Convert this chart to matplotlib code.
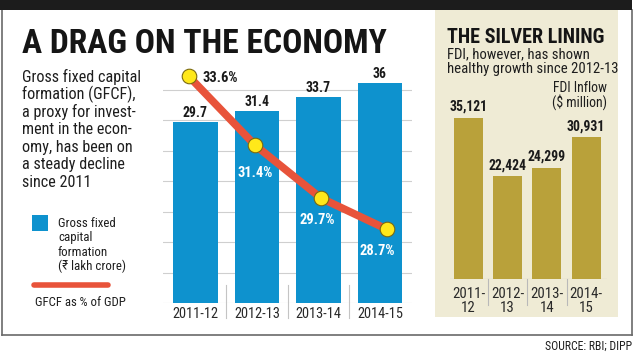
import matplotlib
matplotlib.use('Agg')
import matplotlib.pyplot as plt
from matplotlib import font_manager as fm
from matplotlib.patches import Rectangle
from matplotlib.lines import Line2D

# ---------------- data ----------------
years = ['2011-12', '2012-13', '2013-14', '2014-15']
gfcf = [29.7, 31.4, 33.7, 36]
gfcf_labels = ['29.7', '31.4', '33.7', '36']
gdp_share = [33.6, 31.4, 29.7, 28.7]
gdp_labels = ['33.6%', '31.4%', '29.7%', '28.7%']
fdi_years = ['2011-\n12', '2012-\n13', '2013-\n14', '2014-\n15']
fdi = [35121, 22424, 24299, 30931]

# ---------------- setup ----------------
W, H = 640, 355
fig = plt.figure(figsize=(6.4, 3.55), dpi=100)
fig.patch.set_facecolor('white')

def X(x):
    return x / W

def Y(y):
    return 1 - y / H

names = {f.name for f in fm.fontManager.ttflist}
cond = next((n for n in ['Liberation Sans Narrow', 'Roboto Condensed', 'Open Sans Condensed']
             if n in names), 'DejaVu Sans')
FAM = [cond, 'Noto Sans', 'DejaVu Sans']
STRETCH = 'condensed'

renderer = fig.canvas.get_renderer()

def fit(t, w):
    bb = t.get_window_extent(renderer)
    if bb.width > 0:
        t.set_fontsize(t.get_fontsize() * w / bb.width)
    return t

def ftext(x, y, s, size, weight='normal', color='#1e1e1e', ha='left', va='baseline', width=None):
    t = fig.text(X(x), Y(y), s, fontsize=size, fontweight=weight, color=color,
                 ha=ha, va=va, family=FAM, fontstretch=STRETCH, zorder=5)
    if width is not None:
        fit(t, width)
    return t

# ---------------- frame ----------------
fig.patches.append(Rectangle((0, Y(10)), X(632), 10 / H, transform=fig.transFigure,
                             facecolor='#1c1c1c', edgecolor='none', zorder=-1))
fig.patches.append(Rectangle((X(435), Y(317)), X(618) - X(435), (317 - 10) / H,
                             transform=fig.transFigure, facecolor='#EFEBD5',
                             edgecolor='none', zorder=-1))
for xs_, ys_ in [([2, 2], [10, 335]), ([2, 632], [335, 335]), ([632, 632], [10, 335])]:
    fig.lines.append(Line2D([X(v) for v in xs_], [Y(v) for v in ys_], transform=fig.transFigure,
                            color='#6a6a6a', lw=1.2, zorder=-1))

# ---------------- titles / text ----------------
ftext(22, 53, 'A DRAG ON THE ECONOMY', 26, weight='bold', color='#151515', width=366)

body = ['Gross fixed capital', 'formation (GFCF),', 'a proxy for invest-',
        'ment in the econ-', 'omy, has been on', 'a steady decline', 'since 2011']
t0 = ftext(22, 82, body[0], 12, width=119)
bs = t0.get_fontsize()
for k, line in enumerate(body[1:], start=1):
    ftext(22, 82 + 17.5 * k, line, bs)

# legend
fig.patches.append(Rectangle((X(32), Y(231)), 16 / W, 16 / H, transform=fig.transFigure,
                             facecolor='#0E92CE', edgecolor='none'))
leg = ['Gross fixed', 'capital', 'formation', '(₹ lakh crore)']
tl = ftext(58, 227, leg[0], 9.5, width=58)
ls = tl.get_fontsize()
for k, line in enumerate(leg[1:], start=1):
    ftext(58, 227 + 14.5 * k, line, ls)
fig.lines.append(Line2D([X(34), X(108)], [Y(285), Y(285)], transform=fig.transFigure,
                        color='#E8533A', lw=4, solid_capstyle='round'))
ftext(35, 306, 'GFCF as % of GDP', ls, width=91)

# right panel texts
ftext(447, 43, 'THE SILVER LINING', 17, weight='bold', color='#151515', width=158)
ts = ftext(447, 73, 'healthy growth since 2012-13', 10, width=170)
ftext(447, 58.5, 'FDI, however, has shown', ts.get_fontsize())
tf = ftext(607, 92, 'FDI Inflow', 9.5, ha='right', width=55)
ftext(607, 107, '($ million)', tf.get_fontsize(), ha='right')

ftext(632, 350, 'SOURCE: RBI; DIPP', 10, ha='right', color='#1e1e1e', width=87)

# ---------------- main bar chart ----------------
PXU = 6.1  # pixels per unit (scale of axes below)
ax = fig.add_axes([X(163), Y(303), (412 - 163) / W, (303 - 60) / H])
ax.set_xlim(-0.528, 3.521)
ax.set_ylim(0, 243 / PXU)
ax.axis('off')
for g in range(0, 40, 5):
    ax.axhline(g, color='#cfcfcf', lw=0.8, zorder=0)
xs = list(range(len(years)))
ax.bar(xs, gfcf, width=0.73, color='#0E92CE', zorder=2)
for i, (v, lbl) in enumerate(zip(gfcf, gfcf_labels)):
    ax.annotate(lbl, (i, v), xytext=(0, 9), textcoords='offset pixels', ha='center',
                va='center', fontsize=bs * 0.85, fontweight='bold', color='#1a1a1a',
                family=FAM, fontstretch=STRETCH, zorder=5)
    ax.annotate(years[i], (i, 0), xytext=(0, -15), textcoords='offset pixels', ha='center',
                va='baseline', fontsize=ls * 1.12, color='#2a2a2a', family=FAM,
                fontstretch=STRETCH, annotation_clip=False)
for sx in [0.5, 1.5, 2.5]:
    ax.plot([sx, sx], [(303 - 285) / PXU, (303 - 318) / PXU], color='#c4c4c4', lw=0.8,
            clip_on=False, zorder=1)

# line overlay (GFCF as % of GDP)
ax2 = fig.add_axes([X(163), Y(303), (412 - 163) / W, (303 - 60) / H])
ax2.patch.set_alpha(0)
ax2.axis('off')
ax2.set_xlim(-0.394, 3.379)
ax2.set_ylim(26.336, 34.129)
ax2.plot(xs, gdp_share, color='#E8533A', lw=5.5, solid_capstyle='butt', zorder=3)
ax2.plot(xs, gdp_share, 'o', ms=10.5, mfc='#FFE81A', mec='#7a6a10', mew=0.8, zorder=4)
offs = [(13, -1.5), (0, -28.4), (-4, -21.4), (-9.5, -22.2)]
has = ['left', 'center', 'center', 'center']
cols = ['#1a1a1a', 'white', 'white', 'white']
for i, (v, lbl) in enumerate(zip(gdp_share, gdp_labels)):
    ax2.annotate(lbl, (i, v), xytext=offs[i], textcoords='offset pixels', ha=has[i],
                 va='center', fontsize=bs * 0.9, fontweight='bold', color=cols[i],
                 family=FAM, fontstretch=STRETCH, zorder=6)

# ---------------- FDI bar chart ----------------
PXG = 0.004584
axg = fig.add_axes([X(450), Y(279), 157 / W, (279 - 60) / H])
axg.patch.set_alpha(0)
axg.set_xlim(-0.472, 3.533)
axg.set_ylim(0, 219 / PXG)
axg.axis('off')
axg.axhline(0, color='#a9a9a9', lw=0.8, zorder=1)
axg.bar(xs, fdi, width=0.74, color='#B9A13A', zorder=2)
for i, v in enumerate(fdi):
    axg.annotate(f'{v:,}', (i, v), xytext=(0, 11), textcoords='offset pixels', ha='center',
                 va='center', fontsize=bs * 0.85, fontweight='bold', color='#1a1a1a',
                 family=FAM, fontstretch=STRETCH)
    axg.annotate(fdi_years[i], (i, 0), xytext=(0, -8), textcoords='offset pixels',
                 ha='center', va='top', fontsize=ls * 1.15, color='#2a2a2a', family=FAM,
                 fontstretch=STRETCH, linespacing=1.0, annotation_clip=False)
for sx in [0.5, 1.5, 2.5]:
    axg.plot([sx, sx], [0, -(305 - 279) / PXG], color='#b9b9b9', lw=0.8, clip_on=False)

fig.savefig('out.png', dpi=100)
